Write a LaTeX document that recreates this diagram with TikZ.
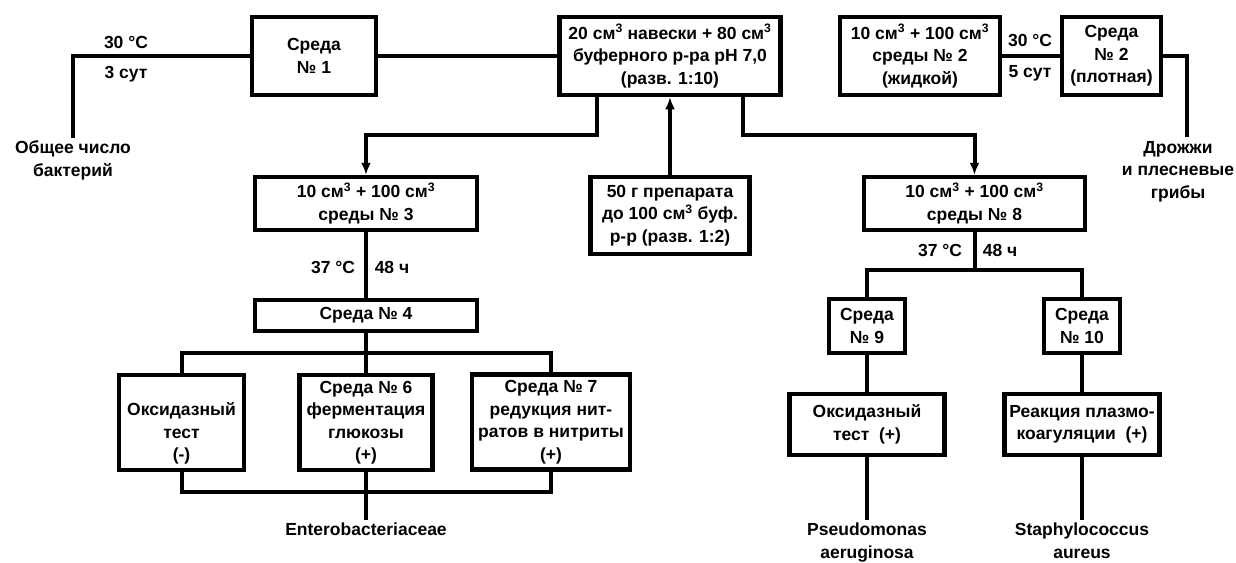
\documentclass[tikz,border=0pt]{standalone}
\usepackage{fontspec}
\setmainfont{Liberation Sans}
\usetikzlibrary{arrows.meta}
\tikzset{
  box/.style={draw,line width=4.5pt,align=center,inner sep=0pt},
  lbl/.style={align=center,inner sep=1pt},
  >={Latex[length=12pt,width=10pt]}
}
\newcommand{\cmc}{см\textsuperscript{3}}
\begin{document}
\begin{tikzpicture}[x=1pt,y=-1pt,line width=4pt,font=\fontsize{17.5}{22.5}\selectfont\bfseries]
\useasboundingbox (0,0) rectangle (1236,562);
\node[box,minimum width=124,minimum height=78] (s1) at (314,56) {Среда\\№ 1};
\node[box,minimum width=221,minimum height=78] (src) at (670,56) {20 \cmc{} навески + 80 \cmc\\буферного р-ра pH 7,0\\(разв. 1:10)};
\node[box,minimum width=160,minimum height=78] (s2l) at (920,56) {10 \cmc{} + 100 \cmc\\среды № 2\\(жидкой)};
\node[box,minimum width=99,minimum height=78] (s2) at (1111.5,56) {Среда\\№ 2\\(плотная)};
\node[box,minimum width=222,minimum height=53] (s3) at (366,203.5) {10 \cmc{} + 100 \cmc\\среды № 3};
\node[box,minimum width=159,minimum height=77] (prep) at (670,215.5) {50 г препарата\\до 100 \cmc{} буф.\\р-р (разв. 1:2)};
\node[box,minimum width=221,minimum height=53] (s8) at (974.5,203.5) {10 \cmc{} + 100 \cmc\\среды № 8};
\node[box,minimum width=222,minimum height=31] (s4) at (366,315.5) {Среда № 4};
\node[box,minimum width=125,minimum height=95] (ox1) at (181.5,422.5) {\mbox{\vphantom{Среда}}\\Оксидазный\\тест\\(-)};
\node[box,minimum width=133,minimum height=95] (s6) at (366,422.5) {Среда № 6\\ферментация\\глюкозы\\(+)};
\node[box,minimum width=158,minimum height=95] (s7) at (551,422) {Среда № 7\\редукция нит-\\ратов в нитриты\\(+)};
\node[box,minimum width=76,minimum height=54] (s9) at (867,326) {Среда\\№ 9};
\node[box,minimum width=76,minimum height=54] (s10) at (1082,326) {Среда\\№ 10};
\node[box,minimum width=155,minimum height=61] (ox2) at (867,424.5) {Оксидазный\\тест\ \ (+)};
\node[box,minimum width=155,minimum height=61] (coag) at (1082,424.5) {Реакция плазмо-\\коагуляции\ \ (+)};
\node[lbl,anchor=north] (total) at (73,138) {Общее число\\бактерий};
\node[lbl,anchor=north] (yeast) at (1178,138) {Дрожжи\\и плесневые\\грибы};
\node[lbl,anchor=north] (entero) at (366,520) {Enterobacteriaceae};
\node[lbl,anchor=north] (pseudo) at (867,520) {Pseudomonas\\aeruginosa};
\node[lbl,anchor=north] (staph) at (1082,520) {Staphylococcus\\aureus};
\node[lbl] (t1) at (126,42) {30 °C};
\node[lbl] (d1) at (126,74) {3 сут};
\node[lbl] (t2) at (1030,40) {30 °C};
\node[lbl] (d2) at (1030,73) {5 сут};
\node[lbl] (t3) at (333,267) {37 °C};
\node[lbl] (h3) at (392,267) {48 ч};
\node[lbl] (t4) at (940,250) {37 °C};
\node[lbl] (h4) at (1000,250) {48 ч};
\coordinate (l1) at (597,135);
\coordinate (r1) at (743,135);
\coordinate (c2) at (1187,137);
\coordinate (l2) at (366,353);
\coordinate (l3) at (366,492);
\coordinate (r2) at (974.5,270);
\draw (s1.west) -| (total.north);
\draw (s1) -- (src);
\draw[->] (l1 |- src.south) -- (l1) -| (s3.north);
\draw[->] (r1 |- src.south) -- (r1) -| (s8.north);
\draw[->] (prep) -- (src);
\draw (s2l) -- (s2);
\draw (s2.east) -| (c2);
\draw (s3) -- (s4);
\draw (s4) -- (s6);
\draw (ox1.north) |- (l2) -| (s7.north);
\draw (ox1.south) |- (l3) -| (s7.south);
\draw (s6) -- (entero);
\draw (s8) -- (r2);
\draw (s9.north) |- (r2) -| (s10.north);
\draw (s9) -- (ox2);
\draw (s10) -- (coag);
\draw (ox2) -- (pseudo);
\draw (coag) -- (staph);
\end{tikzpicture}
\end{document}
